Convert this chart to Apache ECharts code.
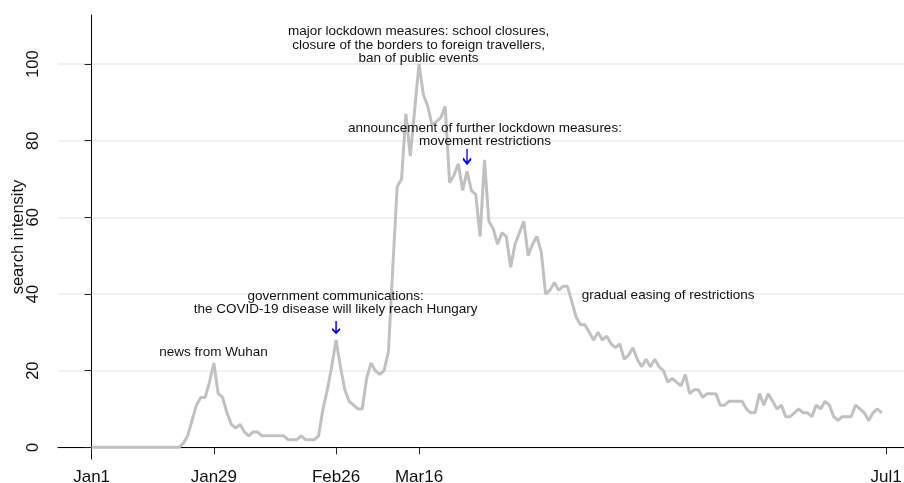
<!DOCTYPE html>
<html>
<head>
<meta charset="utf-8">
<script src="https://cdn.jsdelivr.net/npm/echarts@6/dist/echarts.min.js"></script>
<style>
html,body{margin:0;padding:0;background:#fff;}
#chart{width:904px;height:483px;}
</style>
</head>
<body>
<div id="chart"></div>
<script>
// daily search intensity, day 0 = Jan 1 ... day 181 = Jun 30
var searchIntensity = [
  0,0,0,0,0,0,0,0,0,0, 0,0,0,0,0,0,0,0,0,0,
  0,1,3,7,11,13,13,17,22,14, 13,9,6,5,6,4,3,4,4,3,
  3,3,3,3,3,2,2,2,3,2, 2,2,3,10,15,21,28,21,15,12,
  11,10,10,18,22,20,19,20,25,47, 68,70,87,76,88,100,92,89,84,85,
  86,89,69,71,74,67,72,67,66,55, 75,59,57,53,56,55,47,53,56,59,
  50,53,55,51,40,41,43,41,42,42, 38,34,32,32,30,28,30,28,29,27,
  26,27,23,24,26,23,21,23,21,23, 21,20,17,18,17,16,19,14,15,15,
  13,14,14,14,11,11,12,12,12,12, 10,9,9,14,11,14,12,10,11,8,
  8,9,10,9,9,8,11,10,12,11, 8,7,8,8,8,11,10,9,7,9,
  10,9
];
var tickDays = [0, 28, 56, 75, 182];
var tickLabels = ['Jan1', 'Jan29', 'Feb26', 'Mar16', 'Jul1'];
var yTicks = [0, 20, 40, 60, 80, 100];

var FONT = '"Liberation Sans", Arial, Helvetica, sans-serif';

// annotation texts, placed in data coordinates (day, value)
var notes = [
  {text: 'news from Wuhan', day: 27.9, val: 24.7},
  {text: 'government communications:\nthe COVID-19 disease will likely reach Hungary', day: 55.9, val: 37.7},
  {text: 'major lockdown measures: school closures,\nclosure of the borders to foreign travellers,\nban of public events', day: 74.9, val: 105},
  {text: 'announcement of further lockdown measures:\nmovement restrictions', day: 90.1, val: 81.6},
  {text: 'gradual easing of restrictions', day: 112.3, val: 39.7, left: true}
];
var arrows = [
  {day: 56, len: 12, off: -13},
  {day: 86, len: 15, off: -15}
];

var lineData = searchIntensity.map(function (v, i) { return [i, v]; });

var marks = [];
notes.forEach(function (n) {
  marks.push({
    coord: [n.day, n.val],
    symbol: 'rect',
    symbolSize: 1,
    itemStyle: {color: 'rgba(0,0,0,0)'},
    label: {
      show: true,
      position: 'inside',
      formatter: n.text,
      align: n.left ? 'left' : 'center',
      verticalAlign: 'middle',
      color: '#111',
      fontSize: 13.5,
      lineHeight: 13.5,
      fontFamily: FONT
    }
  });
});
arrows.forEach(function (a) {
  marks.push({
    coord: [a.day, searchIntensity[a.day]],
    symbol: 'path://M5,0L5,20M1,13L5,20L9,13',
    symbolKeepAspect: false,
    symbolSize: [8, a.len],
    symbolOffset: [0, a.off],
    itemStyle: {color: 'none', borderColor: '#0000ff', borderWidth: 1.8},
    label: {show: false}
  });
});

var chart = echarts.init(document.getElementById('chart'));
chart.setOption({
  animation: false,
  backgroundColor: '#fff',
  grid: {left: 58, right: 0, top: 15, bottom: 24, containLabel: false, outerBoundsMode: 'none'},
  xAxis: {
    type: 'value',
    min: -7.7,
    max: 186.1,
    axisLine: {show: true, lineStyle: {color: '#000', width: 1}},
    axisTick: {show: true, customValues: tickDays, length: 7, lineStyle: {color: '#222'}},
    axisLabel: {
      customValues: tickDays,
      margin: 10,
      fontSize: 17,
      color: '#111',
      fontFamily: FONT,
      formatter: function (v) { return tickLabels[tickDays.indexOf(v)]; }
    },
    splitLine: {show: false}
  },
  yAxis: {
    type: 'value',
    min: -3.05,
    max: 112.8,
    name: 'search intensity',
    nameLocation: 'middle',
    nameGap: 31,
    nameRotate: 90,
    nameMoveOverlap: false,
    nameTextStyle: {fontSize: 16.5, color: '#111', fontFamily: FONT},
    axisLine: {show: true, lineStyle: {color: '#000', width: 1}},
    axisTick: {show: true, customValues: yTicks, length: 7, lineStyle: {color: '#222'}},
    axisLabel: {
      customValues: yTicks,
      rotate: 90,
      margin: 16,
      fontSize: 16.5,
      color: '#111',
      fontFamily: FONT
    },
    splitLine: {show: true, lineStyle: {color: '#ebebeb', width: 1.5}}
  },
  series: [{
    type: 'line',
    data: lineData,
    symbol: 'none',
    lineStyle: {color: '#c0c0c0', width: 3},
    markPoint: {silent: true, animation: false, data: marks}
  }]
});
</script>
</body>
</html>
